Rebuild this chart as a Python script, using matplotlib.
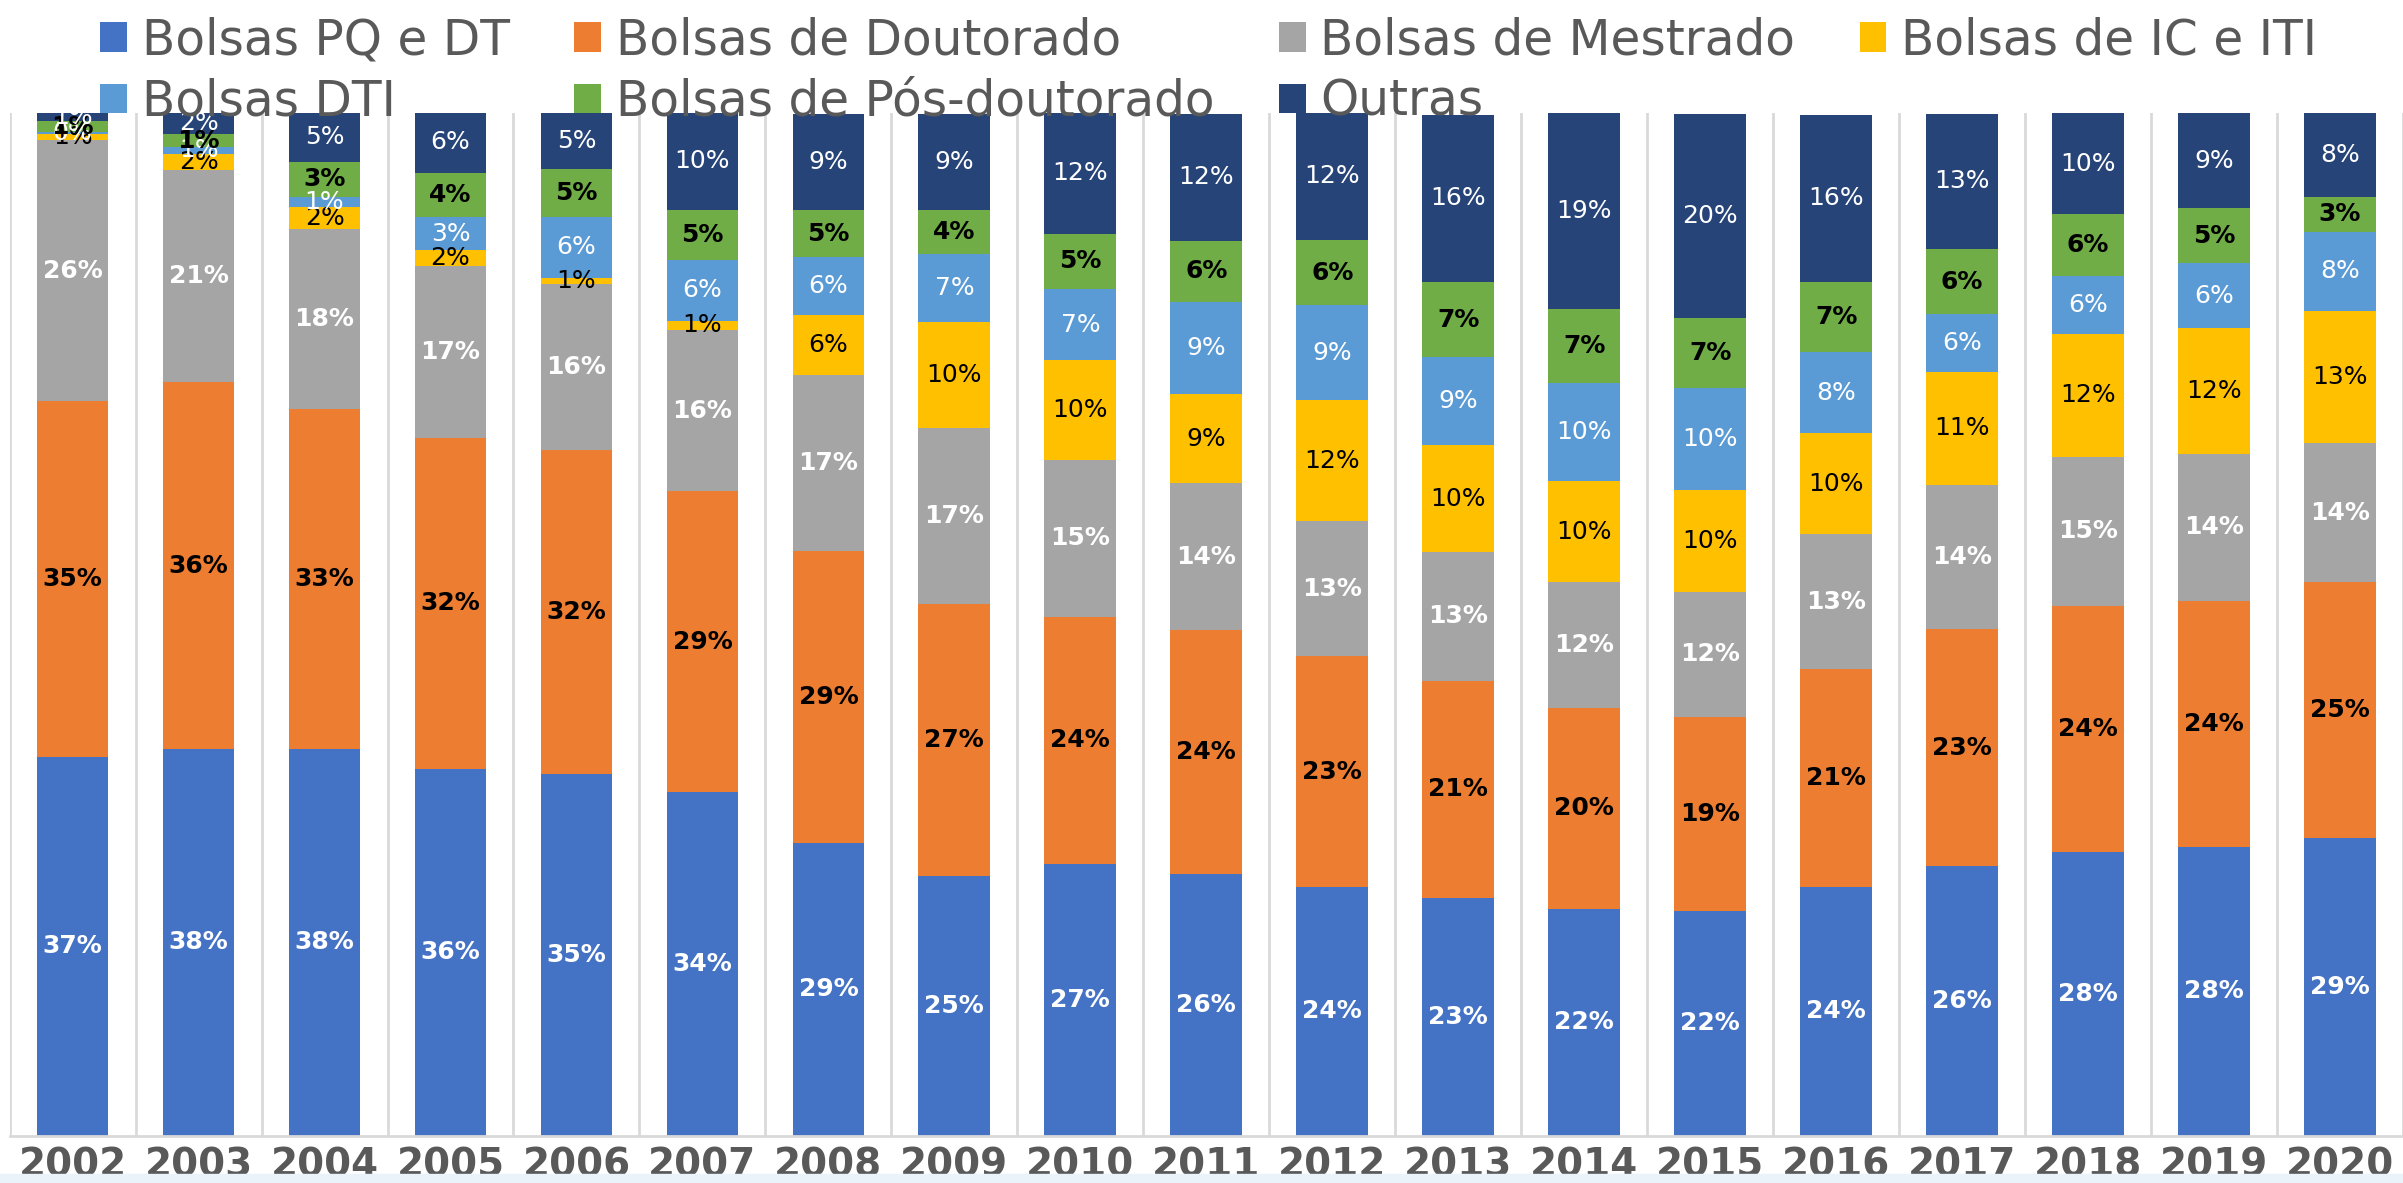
import matplotlib
matplotlib.use("Agg")
import matplotlib.pyplot as plt
import numpy as np

years = [str(y) for y in range(2002, 2021)]

# shares (%) per category
pq_dt = [37.06, 37.8, 37.8, 35.9, 35.4, 33.6, 28.6, 25.4, 26.6, 25.6,
         24.3, 23.2, 22.2, 22.0, 24.3, 26.4, 27.7, 28.2, 29.1]
doutorado = [34.75, 35.9, 33.3, 32.3, 31.6, 29.4, 28.6, 26.6, 24.1, 23.8,
             22.6, 21.3, 19.6, 18.9, 21.3, 23.1, 24.1, 24.1, 25.0]
mestrado = [25.5, 20.7, 17.6, 16.8, 16.3, 15.8, 17.2, 17.2, 15.4, 14.4,
            13.2, 12.6, 12.3, 12.3, 13.2, 14.1, 14.6, 14.4, 13.6]
ic_iti = [0.6, 1.6, 2.15, 1.6, 0.55, 0.9, 5.8, 10.4, 9.7, 8.7,
          11.8, 10.4, 9.9, 9.9, 9.9, 11.1, 12.0, 12.3, 12.9]
dti = [0.26, 0.7, 0.95, 3.2, 6.0, 5.9, 5.7, 6.6, 7.0, 9.0,
       9.3, 8.6, 9.6, 10.0, 7.9, 5.6, 5.7, 6.3, 7.8]
pos_doc = [1.0, 1.2, 3.4, 4.3, 4.7, 4.9, 4.6, 4.3, 5.4, 6.0,
           6.4, 7.4, 7.2, 6.9, 6.9, 6.4, 6.0, 5.4, 3.4]
outras = [0.85, 2.2, 4.9, 6.1, 5.4, 9.6, 9.4, 9.4, 11.8, 12.4,
          12.4, 16.3, 19.3, 19.9, 16.3, 13.2, 9.9, 9.3, 8.2]

series = [
    ("Bolsas PQ e DT", pq_dt, "#4472C4", "white", "bold"),
    ("Bolsas de Doutorado", doutorado, "#ED7D31", "black", "bold"),
    ("Bolsas de Mestrado", mestrado, "#A5A5A5", "white", "bold"),
    ("Bolsas de IC e ITI", ic_iti, "#FFC000", "black", "normal"),
    ("Bolsas DTI", dti, "#5B9BD5", "white", "normal"),
    ("Bolsas de Pós-doutorado", pos_doc, "#70AD47", "black", "bold"),
    ("Outras", outras, "#264478", "white", "normal"),
]

plt.rcParams["font.family"] = ["DejaVu Sans"]

fig = plt.figure(figsize=(24.03, 11.83), dpi=100)
ax = fig.add_axes([0.004, 0.040, 0.996, 0.8645])

x = np.arange(len(years))
bottom = np.zeros(len(years))
handles = {}
for name, vals, color, tcolor, weight in series:
    vals = np.array(vals)
    bars = ax.bar(x, vals, width=0.57, bottom=bottom, color=color,
                  label=name, zorder=2)
    handles[name] = bars
    for xi, b, v in zip(x, bottom, vals):
        ax.text(xi, b + v / 2, f"{v:.0f}%", ha="center", va="center",
                color=tcolor, fontsize=18, fontweight=weight, zorder=3)
    bottom += vals

ax.set_xlim(-0.5, len(years) - 0.5)
ax.set_ylim(0, 100)
ax.set_yticks([])
ax.set_xticks(x)
ax.set_xticklabels(years, fontsize=28, fontweight="bold", color="#595959")
ax.tick_params(axis="x", length=0, pad=8)
for b in np.arange(-0.5, len(years), 1.0):
    ax.axvline(b, color="#D9D9D9", lw=2, zorder=1)
for s in ["top", "right", "left"]:
    ax.spines[s].set_visible(False)
ax.spines["bottom"].set_color("#D9D9D9")
ax.spines["bottom"].set_linewidth(2)

order = ["Bolsas PQ e DT", "Bolsas DTI", "Bolsas de Doutorado",
         "Bolsas de Pós-doutorado", "Bolsas de Mestrado", "Outras",
         "Bolsas de IC e ITI"]
leg = fig.legend([handles[n] for n in order], order, loc="upper center",
                 bbox_to_anchor=(0.503, 1.015), ncol=4, frameon=False,
                 fontsize=35, handlelength=0.55, handleheight=0.55,
                 handletextpad=0.3, columnspacing=1.33, labelspacing=0.28,
                 borderpad=0.2)
for t in leg.get_texts():
    t.set_color("#595959")

fig.patches.append(plt.Rectangle((0, 0), 1, 0.008, transform=fig.transFigure,
                                 color="#EAF2FA", zorder=0))

fig.savefig("out.png", dpi=100)
